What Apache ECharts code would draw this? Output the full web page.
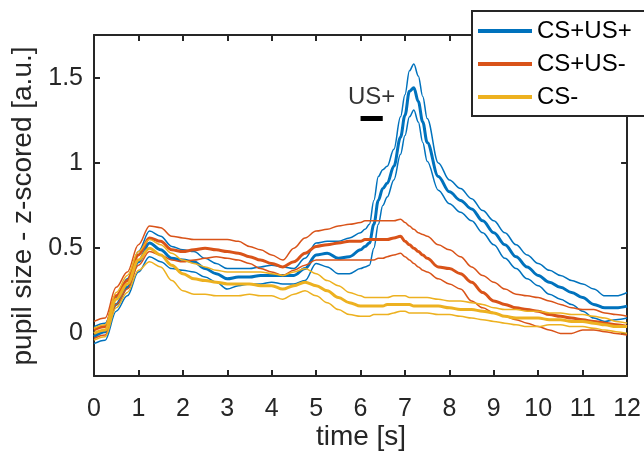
<!DOCTYPE html>
<html>
<head>
<meta charset="utf-8">
<script src="https://cdn.jsdelivr.net/npm/echarts@6/dist/echarts.min.js"></script>
<style>
  html, body { margin: 0; padding: 0; background: #fff; }
  #chart { width: 644px; height: 460px; }
</style>
</head>
<body>
<div id="chart"></div>
<script>
// Sample times [s] shared by every trace (denser around the US+ response)
const time = [0,0.25,0.5,0.75,1,1.25,1.5,1.75,2,2.25,2.5,2.75,3,3.25,3.5,3.75,4,4.25,4.5,4.75,5,5.25,5.5,5.75,6,
  6.1,6.2,6.3,6.4,6.5,6.6,6.75,6.9,7,7.1,7.2,7.3,7.4,7.5,
  7.75,8,8.25,8.5,8.75,9,9.25,9.5,9.75,10,10.25,10.5,10.75,11,11.25,11.5,11.75,12];

// CS+US+ : mean and +/- SEM bounds
const cspUspMean = [-0.02,0.01,0.17,0.27,0.42,0.53,0.49,0.44,0.43,0.42,0.38,0.35,0.32,0.33,0.33,0.34,0.34,0.34,0.34,0.38,0.46,0.47,0.44,0.45,0.49,
  0.51,0.53,0.64,0.78,0.85,0.88,0.98,1.15,1.28,1.42,1.44,1.36,1.24,1.12,
  0.92,0.83,0.78,0.73,0.66,0.59,0.52,0.45,0.39,0.34,0.30,0.27,0.24,0.21,0.17,0.15,0.15,0.16];
const cspUspHi = [0.04,0.06,0.21,0.32,0.48,0.60,0.57,0.51,0.49,0.48,0.44,0.41,0.38,0.38,0.38,0.39,0.40,0.39,0.38,0.44,0.53,0.54,0.54,0.56,0.59,
  0.61,0.64,0.78,0.92,0.96,0.98,1.08,1.27,1.40,1.54,1.58,1.51,1.39,1.26,
  1.00,0.90,0.85,0.79,0.72,0.66,0.59,0.52,0.46,0.41,0.37,0.34,0.31,0.29,0.26,0.22,0.22,0.24];
const cspUspLo = [-0.06,-0.04,0.13,0.22,0.36,0.45,0.42,0.38,0.37,0.36,0.33,0.30,0.26,0.28,0.29,0.29,0.30,0.29,0.29,0.31,0.41,0.39,0.35,0.35,0.38,
  0.39,0.40,0.50,0.64,0.75,0.80,0.90,1.05,1.16,1.27,1.31,1.24,1.12,1.01,
  0.84,0.76,0.71,0.66,0.59,0.52,0.44,0.38,0.32,0.28,0.23,0.20,0.17,0.13,0.09,0.07,0.08,0.09];

// CS+US- : mean and +/- SEM bounds
const cspUsmMean = [0.02,0.04,0.22,0.31,0.46,0.56,0.54,0.49,0.48,0.49,0.50,0.49,0.48,0.47,0.45,0.43,0.41,0.39,0.42,0.47,0.51,0.52,0.53,0.54,0.54,
  0.55,0.55,0.55,0.55,0.55,0.55,0.56,0.57,0.54,0.52,0.50,0.48,0.46,0.44,
  0.39,0.38,0.35,0.30,0.24,0.19,0.17,0.15,0.14,0.13,0.11,0.10,0.09,0.08,0.07,0.06,0.05,0.04];
const cspUsmHi = [0.07,0.09,0.27,0.36,0.52,0.63,0.62,0.57,0.56,0.55,0.55,0.55,0.55,0.54,0.51,0.49,0.46,0.43,0.50,0.56,0.60,0.61,0.63,0.64,0.65,
  0.66,0.66,0.66,0.66,0.66,0.66,0.66,0.67,0.65,0.63,0.61,0.59,0.58,0.57,
  0.52,0.49,0.45,0.39,0.34,0.30,0.26,0.23,0.22,0.21,0.19,0.17,0.15,0.14,0.14,0.12,0.11,0.10];
const cspUsmLo = [-0.03,-0.01,0.17,0.26,0.40,0.48,0.46,0.43,0.42,0.43,0.44,0.45,0.44,0.43,0.41,0.38,0.36,0.34,0.37,0.40,0.43,0.43,0.43,0.43,0.43,
  0.43,0.43,0.43,0.44,0.44,0.45,0.46,0.47,0.45,0.43,0.41,0.39,0.37,0.36,
  0.32,0.29,0.26,0.19,0.15,0.12,0.10,0.08,0.06,0.04,0.02,0.00,0.00,0.02,0.02,0.01,0.00,-0.01];

// CS- : mean and +/- SEM bounds
const csmMean = [0.00,0.02,0.20,0.29,0.43,0.50,0.46,0.40,0.35,0.32,0.31,0.30,0.29,0.29,0.29,0.28,0.28,0.26,0.28,0.30,0.28,0.25,0.21,0.18,0.16,
  0.16,0.16,0.16,0.16,0.16,0.17,0.17,0.17,0.17,0.17,0.16,0.16,0.16,0.16,
  0.16,0.15,0.14,0.14,0.13,0.12,0.10,0.09,0.09,0.09,0.08,0.08,0.07,0.07,0.06,0.05,0.04,0.04];
const csmHi = [0.03,0.05,0.24,0.34,0.48,0.55,0.52,0.47,0.43,0.41,0.39,0.37,0.36,0.36,0.36,0.36,0.35,0.34,0.36,0.38,0.35,0.31,0.28,0.24,0.22,
  0.21,0.21,0.21,0.21,0.21,0.21,0.22,0.22,0.22,0.21,0.21,0.21,0.21,0.21,
  0.20,0.19,0.19,0.18,0.17,0.15,0.14,0.14,0.13,0.13,0.12,0.12,0.11,0.11,0.10,0.09,0.07,0.06];
const csmLo = [-0.04,-0.02,0.15,0.24,0.37,0.42,0.39,0.31,0.25,0.23,0.23,0.22,0.22,0.22,0.23,0.22,0.22,0.20,0.23,0.25,0.22,0.18,0.14,0.11,0.10,
  0.10,0.10,0.11,0.11,0.11,0.11,0.12,0.13,0.13,0.12,0.12,0.12,0.12,0.12,
  0.11,0.11,0.10,0.09,0.08,0.07,0.06,0.05,0.04,0.04,0.05,0.05,0.04,0.04,0.03,0.02,0.01,0.00];

// US+ delivery window [s] and the level of its marker bar
const usWindow = [6, 6.5];
const usLevel = 1.26;

// Axis ticks
const xTicks = [0,1,2,3,4,5,6,7,8,9,10,11,12];
const yTicks = [0, 0.5, 1, 1.5];

const conditions = ['CS+US+', 'CS+US-', 'CS-'];
const colors = ['#0072BD', '#D95319', '#EDB120'];
const traces = [
  { mean: cspUspMean, hi: cspUspHi, lo: cspUspLo },
  { mean: cspUsmMean, hi: cspUsmHi, lo: cspUsmLo },
  { mean: csmMean, hi: csmHi, lo: csmLo }
];

const FONT = '"Liberation Sans", Arial, Helvetica, sans-serif';
const INK = '#262626';

function pairs(vals) { return time.map((t, i) => [t, vals[i]]); }

function trace(name, vals, color, width) {
  return {
    name: name, type: 'line', xAxisIndex: 0, yAxisIndex: 0,
    data: pairs(vals), showSymbol: false, symbol: 'none',
    smooth: 0.35, smoothMonotone: 'x',
    lineStyle: { color: color, width: width }, itemStyle: { color: color },
    silent: true, animation: false
  };
}

const series = [];
traces.forEach((tr, k) => {
  series.push(trace(conditions[k] + ' upper', tr.hi, colors[k], 1.5));
  series.push(trace(conditions[k] + ' lower', tr.lo, colors[k], 1.5));
  series.push(trace(conditions[k], tr.mean, colors[k], 3));
});

// US+ bar and its caption
series.push({
  name: 'US+ window', type: 'line', xAxisIndex: 0, yAxisIndex: 0,
  data: usWindow.map(t => [t, usLevel]), showSymbol: false, symbol: 'none',
  lineStyle: { color: '#000', width: 5, cap: 'butt' }, silent: true, animation: false
});
series.push({
  name: 'US+ caption', type: 'scatter', xAxisIndex: 0, yAxisIndex: 0,
  data: [[(usWindow[0] + usWindow[1]) / 2, usLevel]], symbolSize: 0,
  label: { show: true, formatter: 'US+', position: 'top', distance: 9,
    color: '#000', fontFamily: FONT, fontSize: 24 },
  silent: true, animation: false
});

const axisLineStyle = { color: INK, width: 2 };
const chart = echarts.init(document.getElementById('chart'), null, { renderer: 'canvas' });
chart.setOption({
  animation: false,
  backgroundColor: '#fff',
  grid: { left: 94, right: 15, top: 35, bottom: 84, containLabel: false },
  xAxis: [
    { type: 'value', min: 0, max: 12, position: 'bottom',
      axisLine: { show: true, onZero: false, lineStyle: axisLineStyle },
      axisTick: { show: true, inside: true, length: 6, lineStyle: axisLineStyle, customValues: xTicks },
      axisLabel: { show: true, customValues: xTicks, margin: 21, color: INK, fontFamily: FONT, fontSize: 25 },
      splitLine: { show: false } },
    { type: 'value', min: 0, max: 12, position: 'top',
      axisLine: { show: true, onZero: false, lineStyle: axisLineStyle },
      axisTick: { show: true, inside: true, length: 6, lineStyle: axisLineStyle, customValues: xTicks },
      axisLabel: { show: false }, splitLine: { show: false } }
  ],
  yAxis: [
    { type: 'value', min: -0.25, max: 1.75, position: 'left',
      axisLine: { show: true, onZero: false, lineStyle: axisLineStyle },
      axisTick: { show: true, inside: true, length: 6, lineStyle: axisLineStyle, customValues: yTicks },
      axisLabel: { show: true, customValues: yTicks, margin: 11, color: INK, fontFamily: FONT, fontSize: 25,
        formatter: v => String(v) },
      splitLine: { show: false } },
    { type: 'value', min: -0.25, max: 1.75, position: 'right',
      axisLine: { show: true, onZero: false, lineStyle: axisLineStyle },
      axisTick: { show: true, inside: true, length: 6, lineStyle: axisLineStyle, customValues: yTicks },
      axisLabel: { show: false }, splitLine: { show: false } }
  ],
  legend: {
    data: conditions,
    orient: 'vertical', left: 472, top: 11,
    padding: [8, 30, 7, 6],
    itemGap: 9, itemWidth: 54, itemHeight: 4,
    icon: 'rect',
    backgroundColor: '#fff', borderColor: INK, borderWidth: 2,
    textStyle: { color: '#000', fontFamily: FONT, fontSize: 24 },
    selectedMode: false
  },
  graphic: [
    { type: 'text', x: 361, y: 437, silent: true,
      style: { text: 'time [s]', fill: INK, font: '28px ' + FONT, align: 'center', verticalAlign: 'middle' } },
    { type: 'text', x: 23, y: 206, rotation: Math.PI / 2, silent: true,
      style: { text: 'pupil size - z-scored [a.u.]', fill: INK, font: '28px ' + FONT, align: 'center', verticalAlign: 'middle' } }
  ],
  series: series
});
</script>
</body>
</html>
